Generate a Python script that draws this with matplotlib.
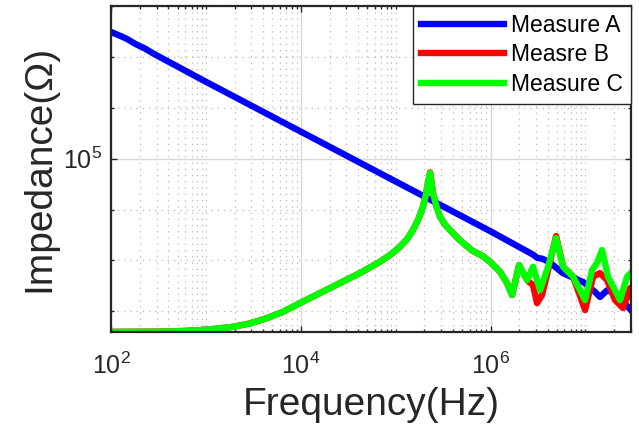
import numpy as np
import matplotlib

matplotlib.use('Agg')
import matplotlib.pyplot as plt
from matplotlib.ticker import FixedLocator, LogLocator, NullFormatter

# values, stored as log10(f) and log10(|Z|)
a_logf = [2.00, 2.05, 2.10, 2.16, 2.25, 2.35, 2.45, 2.60, 3.00, 3.50, 4.00,
          4.50, 5.00, 5.50, 6.00, 6.45, 6.49, 6.55, 6.63, 6.76, 6.98, 7.10, 7.154,
          7.228, 7.28, 7.33, 7.40, 7.48]
a_logz = [7.49, 7.45, 7.41, 7.36, 7.26, 7.17, 7.06, 6.91, 6.51, 6.02, 5.53,
          5.04, 4.55, 4.06, 3.57, 3.11, 3.05, 3.03, 2.95, 2.75, 2.57, 2.38, 2.28,
          2.41, 2.38, 2.28, 2.18, 2.02]

b_logf = [2.006, 2.30, 2.513, 2.75, 2.935, 3.10, 3.283, 3.464, 3.641, 3.81, 3.989,
          4.15, 4.306, 4.45, 4.622, 4.833, 4.95, 5.044, 5.12, 5.181, 5.24, 5.287,
          5.320, 5.340, 5.361, 5.375, 5.392, 5.43, 5.466, 5.52, 5.572, 5.64, 5.709,
          5.80, 5.86, 5.92, 5.994, 6.099, 6.173, 6.226, 6.300, 6.384, 6.447, 6.489,
          6.542, 6.606, 6.690, 6.764, 6.870, 6.996, 7.080, 7.154, 7.228, 7.312,
          7.397, 7.471, 7.492]
b_logz = [1.594, 1.596, 1.598, 1.610, 1.628, 1.655, 1.693, 1.760, 1.864, 1.988, 2.159,
          2.31, 2.455, 2.59, 2.750, 2.972, 3.12, 3.268, 3.42, 3.596, 3.82, 4.055,
          4.32, 4.522, 4.73, 4.56, 4.325, 4.05, 3.858, 3.70, 3.596, 3.46, 3.341,
          3.20, 3.14, 3.08, 2.972, 2.776, 2.553, 2.317, 2.907, 2.612, 2.513, 2.159,
          2.317, 2.809, 3.478, 2.874, 2.677, 2.022, 2.677, 2.750, 2.612, 2.219,
          2.061, 2.455, 2.297]

c_logf = [2.006, 2.30, 2.513, 2.75, 2.935, 3.10, 3.283, 3.464, 3.641, 3.81, 3.989,
          4.15, 4.306, 4.45, 4.622, 4.833, 4.95, 5.044, 5.12, 5.181, 5.24, 5.287,
          5.320, 5.340, 5.361, 5.375, 5.392, 5.43, 5.466, 5.52, 5.572, 5.64, 5.709,
          5.80, 5.86, 5.92, 5.994, 6.099, 6.173, 6.226, 6.300, 6.384, 6.447, 6.521,
          6.606, 6.690, 6.764, 6.870, 6.996, 7.070, 7.122, 7.175, 7.238, 7.365,
          7.439, 7.492]
c_logz = [1.594, 1.596, 1.598, 1.610, 1.628, 1.655, 1.693, 1.760, 1.864, 1.988, 2.159,
          2.31, 2.455, 2.59, 2.750, 2.972, 3.12, 3.268, 3.42, 3.596, 3.82, 4.055,
          4.32, 4.522, 4.72, 4.55, 4.325, 4.05, 3.858, 3.70, 3.596, 3.46, 3.341,
          3.20, 3.14, 3.08, 2.972, 2.776, 2.553, 2.317, 2.907, 2.612, 2.874, 2.415,
          2.874, 3.439, 2.874, 2.677, 2.219, 2.809, 2.947, 3.203, 2.677, 2.219,
          2.677, 2.776]

series_labels = ['Measure A', 'Measre B', 'Measure C']
x_major = [1e2, 1e4, 1e6]
x_major_labels = ['$10^{2}$', '$10^{4}$', '$10^{6}$']
y_major = [1e5]
y_major_labels = ['$10^{5}$']
y_minor = [1e2, 1e3, 1e4, 1e6, 1e7, 1e8]

plt.rcParams['font.family'] = ['Liberation Sans', 'DejaVu Sans']
plt.rcParams['mathtext.fontset'] = 'custom'
plt.rcParams['mathtext.rm'] = 'Liberation Sans'
plt.rcParams['mathtext.it'] = 'Liberation Sans:italic'

dark = '#262626'

fig = plt.figure(figsize=(6.39, 4.30), dpi=100)
ax = fig.add_axes([0.1743, 0.2286, 0.8127, 0.7581])

lw = 4.6
ax.plot(10 ** np.array(a_logf), 10 ** np.array(a_logz), color='#0000ff', lw=lw,
        solid_joinstyle='round', label=series_labels[0])
ax.plot(10 ** np.array(b_logf), 10 ** np.array(b_logz), color='#ff0000', lw=lw,
        solid_joinstyle='round', label=series_labels[1])
ax.plot(10 ** np.array(c_logf), 10 ** np.array(c_logz), color='#00ff00', lw=lw,
        solid_joinstyle='round', label=series_labels[2])

ax.set_xscale('log')
ax.set_yscale('log')
ax.set_xlim(1e2, 3e7)
ax.set_ylim(39.5, 1.02e8)

ax.xaxis.set_major_locator(FixedLocator(x_major))
ax.set_xticklabels(x_major_labels)
ax.xaxis.set_minor_locator(LogLocator(base=10, subs=np.arange(1, 10)))
ax.xaxis.set_minor_formatter(NullFormatter())
ax.yaxis.set_major_locator(FixedLocator(y_major))
ax.set_yticklabels(y_major_labels)
ax.yaxis.set_minor_locator(FixedLocator(y_minor))
ax.yaxis.set_minor_formatter(NullFormatter())

ax.grid(True, which='major', color='#d8d8d8', lw=1.0, ls='-')
ax.grid(True, which='minor', color='#b8b8b8', lw=0.9, ls=(0, (1, 4)))
ax.set_axisbelow(True)

for s in ax.spines.values():
    s.set_linewidth(1.6)
    s.set_color(dark)
ax.tick_params(which='both', direction='in', top=True, right=True, colors=dark,
               width=1.0)
ax.tick_params(which='major', length=4.5, labelsize=18)
ax.tick_params(axis='x', which='major', pad=15)
ax.tick_params(axis='y', which='major', pad=7)
ax.tick_params(which='minor', length=2.5)

ax.set_xlabel('Frequency(Hz)', fontsize=28, color=dark, labelpad=6)
ax.set_ylabel('Impedance(Ω)', fontsize=28, color=dark, labelpad=4)

leg = ax.legend(loc='upper right', bbox_to_anchor=(1.0, 1.0), borderaxespad=0,
                fontsize=16.5, handlelength=3.6, handletextpad=0.3,
                borderpad=0.35, labelspacing=0.28, fancybox=False,
                framealpha=1, edgecolor=dark)
leg.get_frame().set_linewidth(1.0)

fig.savefig('out.png', dpi=100)
plt.close(fig)
